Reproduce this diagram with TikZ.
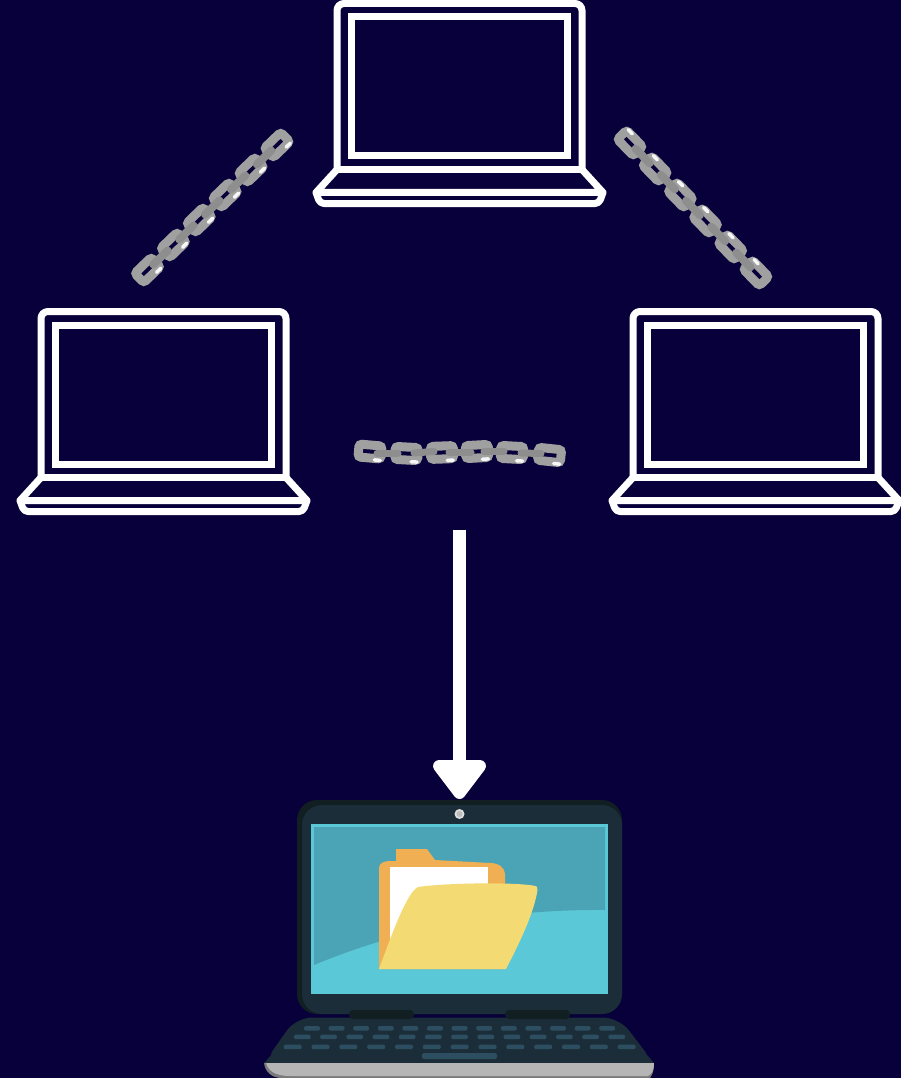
\documentclass[tikz,border=0pt]{standalone}
\definecolor{bgc}{HTML}{08003A}
\definecolor{linkc}{HTML}{A0A0A0}
\definecolor{linkd}{HTML}{8E8E8E}
\definecolor{lidback}{HTML}{111E22}
\definecolor{lidc}{HTML}{1B2D38}
\definecolor{scrl}{HTML}{5BC8D8}
\definecolor{scrd}{HTML}{4BA4B6}
\definecolor{keyc}{HTML}{2C4E60}
\definecolor{fback}{HTML}{EFAF52}
\definecolor{ffront}{HTML}{F3DA73}
\tikzset{
 outline/.style={draw=white,line width=7pt,line join=round},
 screenbox/.style={draw=white,line width=7pt,line join=miter},
 linkbox/.style={draw=linkc,line width=9pt,rounded corners=3pt},
 linkbar/.style={draw=linkd,line width=8pt,line cap=round},
 linkhi/.style={draw=white!92!linkc,line width=3.5pt,line cap=round},
 keybar/.style={fill=keyc,rounded corners=2pt},
}
\newcommand{\laptopicon}[2]{%
 \begin{scope}[shift={(#1,#2)}]
  \draw[outline,rounded corners=7pt] (337,169.5) -- (337,3.5) -- (582,3.5) -- (582,169.5);
  \draw[screenbox] (351.3,17) rectangle (567.6,156);
  \draw[outline] (337,169.5) -- (582,169.5);
  \draw[outline] (337,169.5) -- (316,192.5) -- (603,192.5) -- (582,169.5);
  \draw[outline,rounded corners=4pt] (316,192.5) -- (320,203.5) -- (599,203.5) -- (603,192.5);
 \end{scope}}
% #1,#2 centre; #3 rotation; #4 local x of highlight; #5 local y of highlight
\newcommand{\linkicon}[5]{%
 \begin{scope}[shift={(#1,#2)},rotate=#3]
  \draw[linkbox] (-11.5,-6.5) rectangle (11.5,6.5);
  \draw[linkhi] ({#4-3},#5) -- ({#4+3},#5);
 \end{scope}}
% #1,#2 centre of first link; #3 rotation; #4 pitch; #5 highlight x; #6 highlight y
\newcommand{\chainicon}[6]{%
 \begin{scope}[shift={(#1,#2)},rotate=#3]
  \foreach \i in {0,...,5}{
   \linkicon{\i*#4}{0}{0}{#5}{#6}
  }
  \foreach \i in {0,...,4}{
   \draw[linkbar] ({\i*#4+8},0) -- ({\i*#4+#4-8},0);
  }
 \end{scope}}
\begin{document}
\begin{tikzpicture}[x=1pt,y=-1pt]
\useasboundingbox (0,0) rectangle (901,1078);
\fill[bgc] (0,0) rectangle (901,1078);
% outline laptops
\laptopicon{0}{0}
\laptopicon{-296}{308}
\laptopicon{296}{308}
% chains
\chainicon{147.5}{270}{44}{36}{8}{8}
\chainicon{630}{143}{-45.9}{36.2}{-8}{-8}
\linkicon{370}{451.5}{-5}{8}{8}
\linkicon{406.5}{453.5}{-3}{8}{8}
\linkicon{442}{452.5}{2}{8}{8}
\linkicon{477}{451.5}{3}{8}{8}
\linkicon{512}{452.5}{-3}{8}{8}
\linkicon{549.5}{455}{-6}{8}{8}
\draw[linkbar,line width=7pt] (377,453) -- (398,453);
\draw[linkbar,line width=7pt] (414,453) -- (434,451.5);
\draw[linkbar,line width=7pt] (449,452) -- (471,452);
\draw[linkbar,line width=7pt] (484,451) -- (504,451);
\draw[linkbar,line width=7pt] (521,453) -- (541,453.5);
% arrow
\coordinate (arrowstart) at (459.5,530);
\coordinate (arrowneck) at (459.5,770);
\draw[white,line width=13pt] (arrowstart) -- (arrowneck);
\draw[white,fill=white,line width=12pt,line join=round] (439,766) -- (480,766) -- (459.5,793) -- cycle;
% coloured laptop: base
\fill[lidc,rounded corners=16pt] (264,1063) -- (296,1017.5) -- (619,1017.5) -- (654,1063) -- cycle;
\fill[lidc] (264,1063) -- (285,1040) -- (634,1040) -- (654,1063) -- cycle;
\fill[black!52] (264,1063) .. controls (265,1072) and (272,1078) .. (282,1078) -- (650,1078) .. controls (653,1074) and (654,1070) .. (654,1063) -- cycle;
\fill[white!71!black] (266,1063) .. controls (268,1070) and (274,1076) .. (290,1076) -- (648,1076) .. controls (652,1074) and (654,1070) .. (654,1063) -- cycle;
% keys
\foreach \i in {0,...,12}{
 \fill[keybar] ({304+\i*24.6},1026) rectangle ++(16,4.6);
 \fill[keybar] ({294+\i*26.2},1034.6) rectangle ++(16.7,4.6);
 \fill[keybar] ({283.7+\i*27.83},1044.6) rectangle ++(18,4.6);
}
\fill[keybar] (422,1053) rectangle (497,1059);
% lid
\fill[lidback,rounded corners=20pt] (297,1014) rectangle (622,800);
\fill[lidc,rounded corners=20pt] (302,1014) rectangle (622,805);
\fill[lidback,rounded corners=4pt] (349,1010) rectangle (414,1019);
\fill[lidback,rounded corners=4pt] (505,1010) rectangle (570,1019);
\fill[white!87!black] (459.5,814) circle (5);
\fill[white!74!black] (459.5,814) circle (3);
% screen
\fill[scrl] (311,824) rectangle (608,993.5);
\fill[scrd] (314,827) -- (605,827) -- (605,910) .. controls (510,909) and (410,925) .. (314,965) -- cycle;
% folder
\fill[fback] (379,969) -- (379,868) .. controls (379,863) and (384,861) .. (390,861) -- (396,861) -- (396,849) -- (427,849) -- (435,860) -- (490,863) .. controls (499,863) and (505,868) .. (505,874) -- (505,969) -- cycle;
\fill[white] (390,867) rectangle (488,950);
\fill[ffront] (379,969) .. controls (395,925) and (408,892) .. (418,887) .. controls (445,883) and (510,882) .. (533,885.5) .. controls (537,886) and (538,887) .. (537.5,890) .. controls (534,913) and (520,942) .. (506,969) -- cycle;
\end{tikzpicture}
\end{document}
